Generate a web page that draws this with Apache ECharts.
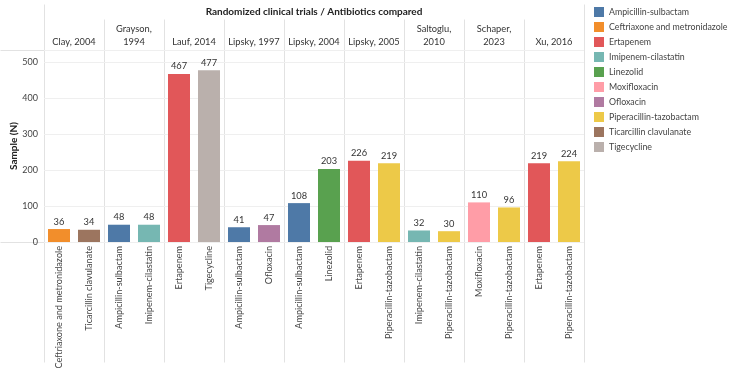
<!DOCTYPE html>
<html>
<head>
<meta charset="utf-8">
<script src="https://cdn.jsdelivr.net/npm/echarts@6/dist/echarts.min.js"></script>
<style>
html, body { margin: 0; padding: 0; background: #fff; }
#chart { width: 736px; height: 374px; }
</style>
</head>
<body>
<div id="chart"></div>
<script>
// trials (facets) and the two arms compared in each
var trials = ['Clay, 2004', 'Grayson,\n1994', 'Lauf, 2014', 'Lipsky, 1997', 'Lipsky, 2004',
    'Lipsky, 2005', 'Saltoglu,\n2010', 'Schaper,\n2023', 'Xu, 2016'];
var armA = ['Ceftriaxone and metronidazole', 'Ampicillin-sulbactam', 'Ertapenem', 'Ampicillin-sulbactam',
    'Ampicillin-sulbactam', 'Ertapenem', 'Imipenem-cilastatin', 'Moxifloxacin', 'Ertapenem'];
var armB = ['Ticarcillin clavulanate', 'Imipenem-cilastatin', 'Tigecycline', 'Ofloxacin', 'Linezolid',
    'Piperacillin-tazobactam', 'Piperacillin-tazobactam', 'Piperacillin-tazobactam', 'Piperacillin-tazobactam'];
var sampleA = [36, 48, 467, 41, 108, 226, 32, 110, 219];
var sampleB = [34, 48, 477, 47, 203, 219, 30, 96, 224];
var yTicks = [0, 100, 200, 300, 400, 500];

var antibiotics = ['Ampicillin-sulbactam', 'Ceftriaxone and metronidazole', 'Ertapenem', 'Imipenem-cilastatin',
    'Linezolid', 'Moxifloxacin', 'Ofloxacin', 'Piperacillin-tazobactam', 'Ticarcillin clavulanate', 'Tigecycline'];
var colors = {
    'Ampicillin-sulbactam': '#4e79a7',
    'Ceftriaxone and metronidazole': '#f28e2b',
    'Ertapenem': '#e15759',
    'Imipenem-cilastatin': '#76b7b2',
    'Linezolid': '#59a14f',
    'Moxifloxacin': '#ff9da7',
    'Ofloxacin': '#b07aa1',
    'Piperacillin-tazobactam': '#edc948',
    'Ticarcillin clavulanate': '#9c755f',
    'Tigecycline': '#bab0ac'
};

var FONT = 'Lato';
var LEFT = 44, COLW = 60, TOP = 50, PLOTH = 192;
var RIGHT = LEFT + COLW * trials.length;
var YMAX = 100 * PLOTH / 36; // header line sits a bit above 500

var grids = [], xAxes = [], yAxes = [], series = [];
trials.forEach(function (t, i) {
    grids.push({ left: LEFT + COLW * i, top: TOP, width: COLW, height: PLOTH, outerBoundsMode: 'none' });
    xAxes.push({
        type: 'category', gridIndex: i, data: [armA[i], armB[i]],
        axisLine: { show: false }, axisTick: { show: false },
        axisLabel: { rotate: 90, interval: 0, margin: 4, fontFamily: FONT, fontSize: 9.1, color: '#444' }
    });
    xAxes.push({
        type: 'category', gridIndex: i, position: 'top', data: [t],
        axisLine: { show: false }, axisTick: { show: false }, splitLine: { show: false },
        axisLabel: { margin: 2, fontFamily: FONT, fontSize: 9.3, lineHeight: 13, color: '#333', align: 'center' }
    });
    yAxes.push({
        type: 'value', gridIndex: i, min: 0, max: YMAX, interval: 100,
        name: i === 0 ? 'Sample (N)' : '', nameLocation: 'middle', nameGap: 20,
        nameTextStyle: { fontFamily: FONT, fontSize: 10, fontWeight: 'bold', color: '#222' },
        axisLine: { show: false }, axisTick: { show: false },
        axisLabel: {
            show: i === 0, margin: 6, fontFamily: FONT, fontSize: 9, color: '#444',
            formatter: function (v) { return yTicks.indexOf(v) >= 0 ? String(v) : ''; }
        },
        splitLine: { lineStyle: { color: '#efefef', width: 1 } }
    });
    var lab = { show: true, position: 'top', distance: 3, fontFamily: FONT, fontSize: 9.3, color: '#333' };
    series.push({
        name: armA[i], type: 'bar', xAxisIndex: 2 * i, yAxisIndex: i, stack: 's' + i,
        barWidth: 22, itemStyle: { color: colors[armA[i]] }, label: lab,
        data: [sampleA[i], '-']
    });
    series.push({
        name: armB[i], type: 'bar', xAxisIndex: 2 * i, yAxisIndex: i, stack: 's' + i,
        barWidth: 22, itemStyle: { color: colors[armB[i]] }, label: lab,
        data: ['-', sampleB[i]]
    });
});

// table rules like the original layout
var rule = '#e2e2e2';
var lines = [
    { shape: { x1: 0, y1: TOP, x2: RIGHT, y2: TOP } },
    { shape: { x1: 0, y1: TOP + PLOTH, x2: RIGHT, y2: TOP + PLOTH } },
    { shape: { x1: LEFT, y1: 4, x2: LEFT, y2: 362 } },
    { shape: { x1: RIGHT, y1: 4, x2: RIGHT, y2: 362 } }
];
for (var k = 1; k < trials.length; k++) {
    lines.push({ shape: { x1: LEFT + COLW * k, y1: 19, x2: LEFT + COLW * k, y2: 362 } });
}
var graphics = lines.map(function (l) {
    l.type = 'line';
    l.shape.x1 += 0.5; l.shape.x2 += 0.5; l.shape.y1 += 0.5; l.shape.y2 += 0.5;
    l.style = { stroke: rule, lineWidth: 1 };
    l.silent = true;
    return l;
});

var chart = echarts.init(document.getElementById('chart'));
chart.setOption({
    animation: false,
    title: {
        text: 'Randomized clinical trials / Antibiotics compared',
        left: (LEFT + RIGHT) / 2, top: 7, padding: 0, textAlign: 'center',
        textStyle: { fontFamily: FONT, fontSize: 10, fontWeight: 'bold', color: '#222' }
    },
    legend: {
        data: antibiotics, orient: 'vertical', left: 594, top: 7, padding: 0,
        itemWidth: 10, itemHeight: 10, itemGap: 5, icon: 'rect',
        textStyle: { fontFamily: FONT, fontSize: 8.8, color: '#444' }
    },
    grid: grids,
    xAxis: xAxes,
    yAxis: yAxes,
    series: series,
    graphic: graphics
});
</script>
</body>
</html>
